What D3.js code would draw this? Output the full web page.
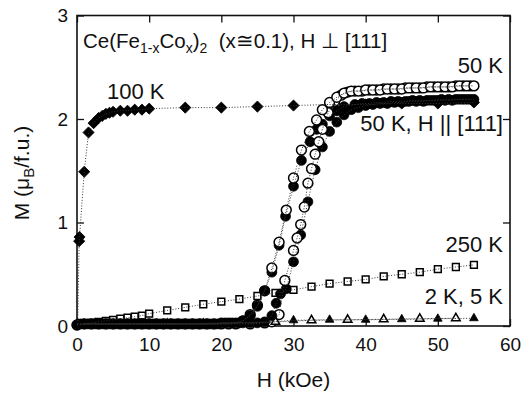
<!DOCTYPE html>
<html>
<head>
<meta charset="utf-8">
<script src="https://cdn.jsdelivr.net/npm/d3@7"></script>
<style>
  html, body { margin: 0; padding: 0; background: #fff; }
  svg { display: block; font-family: "Liberation Sans", Arial, Helvetica, sans-serif; }
  text { white-space: pre; }
</style>
</head>
<body>
<svg id="chart" width="524" height="393"></svg>
<script>
// Axis ticks
const xTicks = [0, 10, 20, 30, 40, 50, 60];
const yTicks = [0, 1, 2, 3];

// 100 K, H ⊥ [111] (filled diamonds)
const h100 = [0.1, 0.3, 0.35, 1.0, 1.6, 2.3, 3, 3.5, 4, 4.5, 5, 6, 7, 8, 9, 10, 15, 20, 25, 30, 35, 40, 45, 50, 55];
const m100 = [0.02, 0.82, 0.86, 1.49, 1.87, 1.96, 2.01, 2.03, 2.05, 2.06, 2.07, 2.08, 2.08, 2.09, 2.09, 2.10, 2.11, 2.11, 2.12, 2.13, 2.14, 2.14, 2.15, 2.15, 2.16];

// 250 K (open squares)
const h250 = [1, 2, 3, 4, 5, 6, 7, 8, 9, 10, 12.5, 15, 17.5, 20, 22.5, 25, 27.5, 30, 32.5, 35, 37.5, 40, 42.5, 45, 47.5, 50, 52.5, 55];
const m250 = [0.02, 0.03, 0.04, 0.05, 0.06, 0.07, 0.08, 0.09, 0.10, 0.12, 0.15, 0.18, 0.21, 0.235, 0.26, 0.29, 0.32, 0.35, 0.38, 0.41, 0.43, 0.45, 0.48, 0.50, 0.52, 0.55, 0.57, 0.59];

// 2 K (filled triangles) and 5 K (open triangles)
const h2K = [0, 5, 10, 15, 20, 25, 30, 35, 40, 45, 50, 55];
const m2K = [0.02, 0.02, 0.02, 0.02, 0.03, 0.03, 0.055, 0.06, 0.06, 0.065, 0.07, 0.075];
const h5K = [2.5, 7.5, 12.5, 17.5, 22.5, 27.5, 32.5, 37.5, 42.5, 47.5, 52.5];
const m5K = [0.02, 0.02, 0.02, 0.02, 0.03, 0.04, 0.055, 0.06, 0.065, 0.07, 0.075];

// 50 K, H || [111] (filled circles), increasing field
const hParUp = [0, 1, 2, 3, 4, 5, 6, 7, 8, 9, 10, 11, 12, 13, 14, 15, 16, 17, 18, 19, 20, 21, 22, 23, 24, 25, 26, 27, 27.6, 28.2, 29, 30, 31, 32, 33, 34, 35, 36, 37, 38, 39, 40, 41, 42, 43, 44, 45, 46, 47, 48, 49, 50, 51, 52, 53, 54, 55];
const mParUp = [0.01, 0.02, 0.02, 0.02, 0.02, 0.02, 0.02, 0.02, 0.02, 0.02, 0.02, 0.02, 0.02, 0.02, 0.02, 0.02, 0.02, 0.02, 0.02, 0.02, 0.03, 0.03, 0.03, 0.03, 0.03, 0.03, 0.04, 0.10, 0.22, 0.31, 0.36, 0.62, 0.88, 1.20, 1.51, 1.73, 1.88, 1.97, 2.04, 2.09, 2.11, 2.13, 2.14, 2.15, 2.15, 2.16, 2.16, 2.17, 2.17, 2.17, 2.18, 2.18, 2.18, 2.18, 2.19, 2.19, 2.19];
// 50 K, H || [111], decreasing field
const hParDn = [0.5, 1.5, 2.5, 3.5, 4.5, 5.5, 6.5, 7.5, 8.5, 9.5, 10.5, 11.5, 12.5, 13.5, 14.5, 15.5, 16.5, 17.5, 18.5, 19.5, 20.5, 21.5, 22.5, 23, 24, 25, 26, 27, 28, 28.9, 30, 31.1, 32.3, 33.2, 34, 35, 36, 37, 38.5, 39.5, 40.5, 41.5, 42.5, 43.5, 44.5, 45.5, 46.5, 47.5, 48.5, 49.5, 50.5, 51.5, 52.5, 53.5, 54.5];
const mParDn = [0.02, 0.02, 0.02, 0.02, 0.02, 0.02, 0.02, 0.02, 0.02, 0.02, 0.02, 0.02, 0.02, 0.02, 0.02, 0.02, 0.02, 0.02, 0.02, 0.02, 0.03, 0.03, 0.03, 0.05, 0.10, 0.19, 0.34, 0.52, 0.78, 1.06, 1.35, 1.60, 1.78, 1.90, 1.95, 2.03, 2.08, 2.12, 2.14, 2.15, 2.15, 2.16, 2.16, 2.17, 2.17, 2.17, 2.18, 2.18, 2.18, 2.18, 2.19, 2.19, 2.19, 2.19, 2.19];

// 50 K, H ⊥ [111] (open circles), increasing field
const hPerpUp = [0, 2, 4, 6, 8, 10, 12, 14, 16, 18, 20, 22, 24, 26, 27, 28, 28.8, 30, 30.5, 31, 31.5, 32, 32.5, 33, 33.5, 34, 34.8, 35.7, 36.6, 37.5, 38.5, 39.5, 40.5, 41.5, 42.5, 43.5, 44.5, 45.5, 46.5, 47.5, 48.5, 49.5, 50.5, 51.5, 52.5, 53.5, 54.5];
const mPerpUp = [0.01, 0.02, 0.02, 0.02, 0.02, 0.02, 0.02, 0.02, 0.02, 0.02, 0.02, 0.02, 0.02, 0.03, 0.04, 0.11, 0.44, 0.73, 0.85, 0.98, 1.15, 1.38, 1.52, 1.66, 1.78, 1.90, 2.06, 2.17, 2.23, 2.26, 2.27, 2.27, 2.28, 2.28, 2.29, 2.29, 2.29, 2.30, 2.30, 2.30, 2.31, 2.31, 2.31, 2.31, 2.32, 2.32, 2.32];
// 50 K, H ⊥ [111], decreasing field
const hPerpDn = [1, 3, 5, 7, 9, 11, 13, 15, 17, 19, 21, 23, 24, 25, 26, 27, 28, 29, 30, 31.1, 32.2, 33.2, 34, 35, 36, 37, 38, 39, 40, 41, 42, 43, 44, 45, 46, 47, 48, 49, 50, 51, 52, 53, 54, 55];
const mPerpDn = [0.02, 0.02, 0.02, 0.02, 0.02, 0.02, 0.02, 0.02, 0.02, 0.02, 0.02, 0.05, 0.11, 0.20, 0.34, 0.56, 0.81, 1.12, 1.43, 1.70, 1.88, 1.99, 2.09, 2.16, 2.21, 2.25, 2.27, 2.27, 2.28, 2.28, 2.28, 2.29, 2.29, 2.29, 2.30, 2.30, 2.30, 2.31, 2.31, 2.31, 2.31, 2.32, 2.32, 2.32];

const zip = (hs, ms) => hs.map((h, i) => ({ h, m: ms[i] }));

const W = 524, H = 393;
const margin = { left: 77, right: 14, top: 15.5, bottom: 67 };
const svg = d3.select("#chart");

const x = d3.scaleLinear().domain([0, 60]).range([margin.left, W - margin.right]);
const y = d3.scaleLinear().domain([0, 3]).range([H - margin.bottom, margin.top]);

const tickLen = 7;
const tickFont = 19;

// Axes with inward ticks on all four sides
const gx = svg.append("g").attr("transform", `translate(0,${y(0)})`)
  .call(d3.axisBottom(x).tickValues(xTicks).tickSizeInner(-tickLen).tickSizeOuter(0).tickPadding(12).tickFormat(d3.format("d")));
const gxTop = svg.append("g").attr("transform", `translate(0,${y(3)})`)
  .call(d3.axisTop(x).tickValues(xTicks).tickSizeInner(-tickLen).tickSizeOuter(0).tickFormat(""));
const gy = svg.append("g").attr("transform", `translate(${x(0)},0)`)
  .call(d3.axisLeft(y).tickValues(yTicks).tickSizeInner(-tickLen).tickSizeOuter(0).tickPadding(9).tickFormat(d3.format("d")));
const gyRight = svg.append("g").attr("transform", `translate(${x(60)},0)`)
  .call(d3.axisRight(y).tickValues(yTicks).tickSizeInner(-tickLen).tickSizeOuter(0).tickFormat(""));

[gx, gxTop, gy, gyRight].forEach(g => {
  g.select(".domain").remove();
  g.selectAll(".tick line").attr("stroke", "#111").attr("stroke-width", 1.3);
  g.selectAll(".tick text").attr("fill", "#111").attr("font-size", tickFont)
    .attr("font-family", "'Liberation Sans', Arial, sans-serif");
});

// Plot frame
svg.append("rect")
  .attr("x", x(0)).attr("y", y(3))
  .attr("width", x(60) - x(0)).attr("height", y(0) - y(3))
  .attr("fill", "none").attr("stroke", "#111").attr("stroke-width", 1.6);

// Series definitions
const s100 = { data: zip(h100, m100), shape: "diamond", filled: true };
const s250 = { data: zip(h250, m250), shape: "square", filled: false };
const s2K = { data: zip(h2K, m2K), shape: "triangle", filled: true };
const s5K = { data: zip(h5K, m5K), shape: "triangle", filled: false };
const sParUp = { data: zip(hParUp, mParUp), shape: "circle", filled: true };
const sParDn = { data: zip(hParDn, mParDn), shape: "circle", filled: true };
const sPerpUp = { data: zip(hPerpUp, mPerpUp), shape: "circle", filled: false };
const sPerpDn = { data: zip(hPerpDn, mPerpDn), shape: "circle", filled: false };
const allSeries = [s100, s250, s2K, s5K, sParUp, sParDn, sPerpUp, sPerpDn];

const symbolFor = {
  diamond: d3.symbol().type(d3.symbolSquare).size(62)(),
  square: d3.symbol().type(d3.symbolSquare).size(46)(),
  triangle: d3.symbol().type(d3.symbolTriangle).size(32)(),
  circle: d3.symbol().type(d3.symbolCircle).size(76)()
};

// Low on the curves the filled markers sit on top (a solid band);
// higher up the transition the open circles sit on top.
const low = d => d.m < 0.4;
const layers = [
  [s100, () => true],
  [s250, () => true],
  [sPerpUp, low], [sPerpDn, low],
  [s5K, () => true],
  [sParUp, () => true], [sParDn, () => true],
  [s2K, () => true],
  [sPerpUp, d => !low(d)], [sPerpDn, d => !low(d)]
];

const markers = svg.append("g");
layers.forEach(([s, keep]) => {
  markers.append("g").selectAll("path").data(s.data.filter(keep)).join("path")
    .attr("d", symbolFor[s.shape])
    .attr("transform", d => `translate(${x(d.h)},${y(d.m)})` + (s.shape === "diamond" ? " rotate(45)" : ""))
    .attr("fill", s.filled ? "#000" : "#fff")
    .attr("stroke", "#000")
    .attr("stroke-width", s.filled ? 0.8 : 1.5);
});

// Dotted connecting lines, drawn over the markers
const line = d3.line().x(d => x(d.h)).y(d => y(d.m));
const lines = svg.append("g");
allSeries.forEach(s => {
  lines.append("path").datum(s.data)
    .attr("d", line)
    .attr("fill", "none")
    .attr("stroke", "#333")
    .attr("stroke-width", 1)
    .attr("stroke-dasharray", "1,1.8");
});

// Annotation text
const labelFont = 22;
const title = svg.append("text").attr("x", 83).attr("y", 48).attr("font-size", 20.5).attr("fill", "#111");
title.append("tspan").text("Ce(Fe");
title.append("tspan").attr("font-size", 14).attr("dy", 5).text("1-x");
title.append("tspan").attr("dy", -5).text("Co");
title.append("tspan").attr("font-size", 14).attr("dy", 5).text("x");
title.append("tspan").attr("dy", -5).text(")");
title.append("tspan").attr("font-size", 14).attr("dy", 5).text("2");
title.append("tspan").attr("dy", -5).text("  (x≅0.1), H ⊥ [111]");

const labels = [
  { text: "100 K", x: 107, y: 99, anchor: "start" },
  { text: "50 K", x: 503, y: 73, anchor: "end" },
  { text: "50 K, H || [111]", x: 503, y: 131, anchor: "end" },
  { text: "250 K", x: 503, y: 252, anchor: "end" },
  { text: "2 K, 5 K", x: 503, y: 304, anchor: "end" }
];
svg.append("g").selectAll("text").data(labels).join("text")
  .attr("x", d => d.x).attr("y", d => d.y)
  .attr("text-anchor", d => d.anchor)
  .attr("font-size", labelFont).attr("fill", "#111")
  .text(d => d.text);

// Axis titles
svg.append("text")
  .attr("x", (x(0) + x(60)) / 2).attr("y", 387)
  .attr("text-anchor", "middle").attr("font-size", 21).attr("fill", "#111")
  .text("H (kOe)");

const yTitle = svg.append("text")
  .attr("transform", `translate(28.5,173) rotate(-90)`)
  .attr("text-anchor", "middle").attr("font-size", 21).attr("fill", "#111");
yTitle.append("tspan").text("M (μ");
yTitle.append("tspan").attr("font-size", 15).attr("dy", 5).text("B");
yTitle.append("tspan").attr("dy", -5).text("/f.u.)");
</script>
</body>
</html>
